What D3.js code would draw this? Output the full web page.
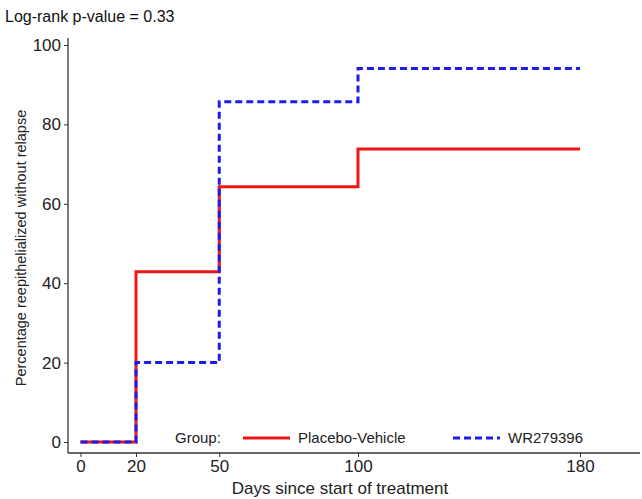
<!DOCTYPE html>
<html><head><meta charset="utf-8">
<script src="https://cdn.jsdelivr.net/npm/d3@7"></script>
<style>body{margin:0;background:#fff;font-family:"Liberation Sans",Arial,sans-serif}</style>
</head><body><div id="chart"></div>
<script>
var xTicks = [0, 20, 50, 100, 180];
var yTicks = [0, 20, 40, 60, 80, 100];
var placeboDays = [0, 20, 50, 100, 180];
var placeboValues = [0, 42.9, 64.3, 73.8, 73.8];
var wrDays = [0, 20, 50, 100, 180];
var wrValues = [0, 20, 85.7, 94.1, 94.1];

var W = 642, H = 499;
var svg = d3.select("#chart").append("svg").attr("width", W).attr("height", H);

var x = d3.scaleLinear().domain([0, 180]).range([80.5, 580]);
var y = d3.scaleLinear().domain([0, 100]).range([442, 45]);

// axes
var gx = svg.append("g").attr("transform", "translate(0,453)")
  .call(d3.axisBottom(x).tickValues(xTicks).tickSize(4).tickSizeOuter(0));
gx.select(".domain").attr("d", "M68,0H640");
var gy = svg.append("g").attr("transform", "translate(68,0)")
  .call(d3.axisLeft(y).tickValues(yTicks).tickSize(4).tickSizeOuter(0));
gy.select(".domain").attr("d", "M0,38V453");
svg.selectAll(".domain").attr("stroke", "#333").attr("stroke-width", 1.3);
svg.selectAll(".tick line").attr("stroke", "#333");
svg.selectAll(".tick text").attr("font-size", 17).attr("fill", "#222")
  .attr("font-family", "Liberation Sans, Arial, sans-serif");

var line = d3.line().curve(d3.curveStepAfter).x(function (d) { return x(d[0]); }).y(function (d) { return y(d[1]); });

svg.append("path").datum(d3.zip(placeboDays, placeboValues)).attr("d", line)
  .attr("fill", "none").attr("stroke", "#f01414").attr("stroke-width", 3);
svg.append("path").datum(d3.zip(wrDays, wrValues)).attr("d", line)
  .attr("fill", "none").attr("stroke", "#1c1cf0").attr("stroke-width", 3).attr("stroke-dasharray", "7,4");

// labels
svg.append("text").attr("x", 5).attr("y", 22).attr("font-size", 16).attr("fill", "#111").text("Log-rank p-value = 0.33");
svg.append("text").attr("x", 340).attr("y", 494).attr("text-anchor", "middle").attr("font-size", 17).attr("fill", "#222").text("Days since start of treatment");
svg.append("text").attr("transform", "translate(26,248) rotate(-90)").attr("text-anchor", "middle").attr("font-size", 14.5).attr("fill", "#222").text("Percentage reepithelialized without relapse");

// legend
var lg = svg.append("g").attr("font-size", 15).attr("fill", "#222");
lg.append("text").attr("x", 175).attr("y", 443).text("Group:");
lg.append("line").attr("x1", 243).attr("x2", 290).attr("y1", 438).attr("y2", 438).attr("stroke", "#f01414").attr("stroke-width", 3);
lg.append("text").attr("x", 298).attr("y", 443).text("Placebo-Vehicle");
lg.append("line").attr("x1", 453).attr("x2", 500).attr("y1", 438).attr("y2", 438).attr("stroke", "#1c1cf0").attr("stroke-width", 3).attr("stroke-dasharray", "7,4");
lg.append("text").attr("x", 508).attr("y", 443).text("WR279396");
</script></body></html>
